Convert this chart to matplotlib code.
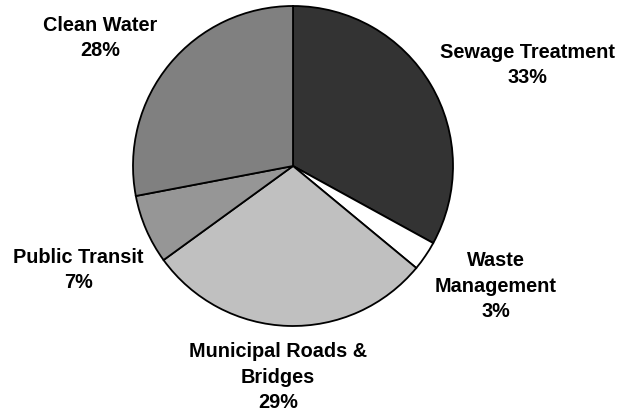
import matplotlib
matplotlib.use("Agg")
import matplotlib.pyplot as plt

# slice data, clockwise from 12 o'clock
categories = ["Sewage Treatment", "Waste\nManagement", "Municipal Roads &\nBridges",
              "Public Transit", "Clean Water"]
shares = [33, 3, 29, 7, 28]
colors = ["#333333", "#ffffff", "#c0c0c0", "#969696", "#808080"]

# label centres in pixels (x from left, y from top)
label_px = [(527, 65), (496, 286), (278, 377), (78, 270), (100, 38)]

W, H = 621, 415
cx, cy, R = 293, 166, 160

plt.rcParams['font.family'] = ['Liberation Sans', 'DejaVu Sans']

fig = plt.figure(figsize=(W / 100, H / 100), dpi=100)
ax = fig.add_axes([0, 0, 1, 1])
ax.pie(shares, colors=colors, startangle=90, counterclock=False, radius=1,
       wedgeprops=dict(edgecolor="black", linewidth=1.3))
ax.set_xlim(-cx / R, (W - cx) / R)
ax.set_ylim(-(H - cy) / R, cy / R)
ax.set_aspect("auto")
ax.axis("off")

for cat, val, (px, py) in zip(categories, shares, label_px):
    ax.text((px - cx) / R, (cy - py) / R, f"{cat}\n{val}%", ha="center", va="center",
            fontsize=14.3, fontweight="bold", linespacing=1.45)

fig.savefig("out.png", dpi=100)
